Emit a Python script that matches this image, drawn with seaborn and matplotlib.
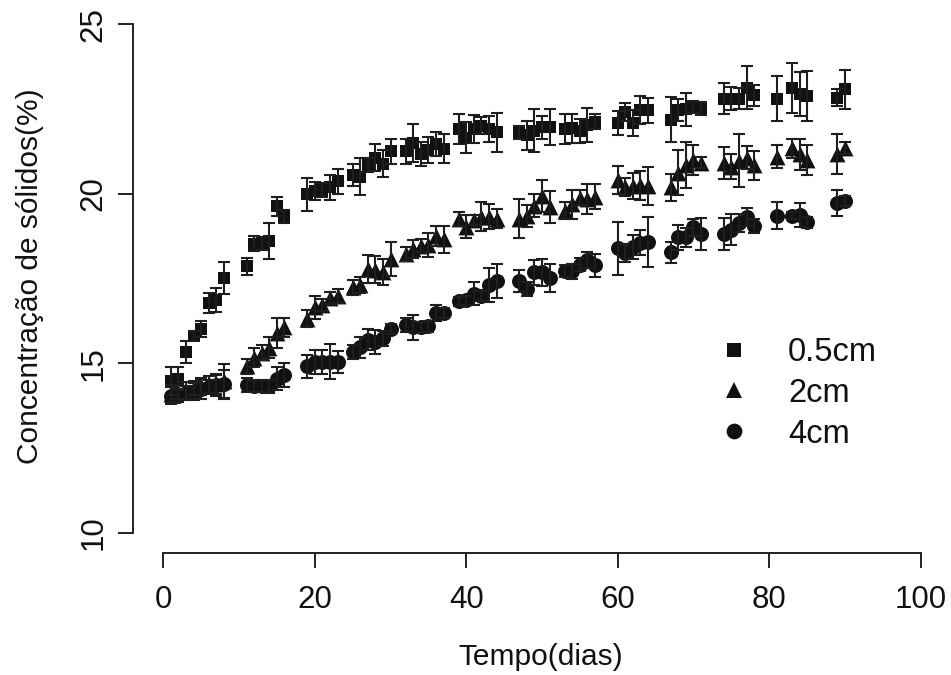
import matplotlib
matplotlib.use("Agg")
import matplotlib.pyplot as plt
from matplotlib.lines import Line2D
import seaborn as sns
import pandas as pd

# ---------------- data ----------------
days = [1, 2, 3, 4, 5, 6, 7, 8,
        11, 12, 13, 14, 15, 16,
        19, 20, 21, 22, 23,
        25, 26, 27, 28, 29, 30,
        32, 33, 34, 35, 36, 37,
        39, 40, 41, 42, 43, 44,
        47, 48, 49, 50, 51,
        53, 54, 55, 56, 57,
        60, 61, 62, 63, 64,
        67, 68, 69, 70, 71,
        74, 75, 76, 77, 78,
        81, 83, 84, 85,
        89, 90]

sq_mean = [14.48, 14.55, 15.33, 15.80, 16.02, 16.79, 16.86, 17.52,
           17.87, 18.53, 18.53, 18.62, 19.63, 19.33,
           19.99, 20.09, 20.12, 20.19, 20.37,
           20.55, 20.51, 20.85, 21.07, 20.89, 21.25,
           21.25, 21.51, 21.17, 21.29, 21.46, 21.33,
           21.91, 21.66, 21.91, 22.01, 21.91, 21.81,
           21.81, 21.73, 21.86, 21.96, 21.96,
           21.91, 21.93, 21.86, 22.03, 22.12,
           22.08, 22.41, 22.08, 22.47, 22.47,
           22.19, 22.47, 22.49, 22.56, 22.51,
           22.81, 22.81, 22.81, 23.13, 22.90,
           22.81, 23.13, 22.93, 22.88,
           22.83, 23.08]
sq_err = [0.40, 0.33, 0.33, 0.15, 0.23, 0.30, 0.35, 0.47,
          0.25, 0.22, 0.20, 0.53, 0.28, 0.20,
          0.49, 0.27, 0.20, 0.37, 0.37,
          0.33, 0.54, 0.22, 0.40, 0.40, 0.38,
          0.37, 0.56, 0.35, 0.38, 0.35, 0.42,
          0.45, 0.45, 0.42, 0.25, 0.37, 0.57,
          0.18, 0.43, 0.64, 0.33, 0.53,
          0.45, 0.42, 0.35, 0.50, 0.22,
          0.36, 0.27, 0.38, 0.40, 0.37,
          0.66, 0.33, 0.48, 0.17, 0.20,
          0.47, 0.35, 0.30, 0.64, 0.30,
          0.67, 0.74, 0.65, 0.73,
          0.25, 0.57]

tri_mean = [14.10, 14.15, 14.20, 14.28, 14.33, 14.38, 14.40, 14.48,
            14.92, 15.17, 15.32, 15.46, 15.89, 16.06,
            16.32, 16.65, 16.72, 16.92, 16.99,
            17.24, 17.31, 17.78, 17.76, 17.70, 18.09,
            18.22, 18.37, 18.47, 18.49, 18.76, 18.66,
            19.25, 19.03, 19.23, 19.33, 19.33, 19.27,
            19.27, 19.35, 19.65, 19.94, 19.60,
            19.50, 19.69, 19.89, 19.84, 19.92,
            20.40, 20.21, 20.23, 20.25, 20.23,
            20.19, 20.62, 20.84, 21.00, 20.92,
            20.90, 20.80, 20.97, 21.07, 20.84,
            21.10, 21.34, 21.17, 21.00,
            21.17, 21.36]
tri_err = [0.25, 0.20, 0.25, 0.20, 0.25, 0.25, 0.30, 0.50,
           0.22, 0.28, 0.22, 0.31, 0.45, 0.28,
           0.26, 0.35, 0.18, 0.18, 0.20,
           0.23, 0.24, 0.41, 0.40, 0.39, 0.50,
           0.20, 0.26, 0.20, 0.35, 0.29, 0.40,
           0.21, 0.34, 0.14, 0.44, 0.37, 0.28,
           0.58, 0.33, 0.34, 0.48, 0.47,
           0.25, 0.43, 0.23, 0.44, 0.37,
           0.41, 0.27, 0.38, 0.43, 0.56,
           0.40, 0.66, 0.68, 0.44, 0.16,
           0.47, 0.37, 0.78, 0.33, 0.43,
           0.35, 0.28, 0.46, 0.44,
           0.58, 0.18]

cir_mean = [14.05, 14.05, 14.12, 14.17, 14.25, 14.30, 14.35, 14.38,
            14.36, 14.34, 14.34, 14.32, 14.55, 14.65,
            14.91, 15.03, 15.03, 15.05, 15.05,
            15.34, 15.47, 15.70, 15.62, 15.74, 16.02,
            16.14, 16.07, 16.07, 16.10, 16.49, 16.49,
            16.83, 16.86, 17.05, 16.99, 17.32, 17.42,
            17.42, 17.20, 17.68, 17.68, 17.52,
            17.72, 17.72, 17.91, 18.04, 17.89,
            18.40, 18.26, 18.43, 18.56, 18.58,
            18.28, 18.72, 18.72, 19.01, 18.81,
            18.81, 18.94, 19.14, 19.31, 19.06,
            19.36, 19.36, 19.38, 19.16,
            19.72, 19.79]
cir_err = [0.25, 0.20, 0.20, 0.25, 0.30, 0.20, 0.30, 0.42,
           0.20, 0.18, 0.18, 0.20, 0.34, 0.36,
           0.34, 0.35, 0.35, 0.52, 0.32,
           0.20, 0.32, 0.31, 0.35, 0.22, 0.15,
           0.21, 0.37, 0.16, 0.16, 0.23, 0.15,
           0.13, 0.13, 0.34, 0.15, 0.50, 0.50,
           0.32, 0.21, 0.36, 0.41, 0.41,
           0.17, 0.22, 0.19, 0.23, 0.33,
           0.78, 0.26, 0.36, 0.36, 0.73,
           0.31, 0.37, 0.28, 0.25, 0.47,
           0.47, 0.46, 0.26, 0.26, 0.21,
           0.40, 0.10, 0.36, 0.16,
           0.38, 0.15]

series_labels = ["0.5cm", "2cm", "4cm"]
x_ticks = [0, 20, 40, 60, 80, 100]
y_ticks = [10, 15, 20, 25]
x_label = "Tempo(dias)"
y_label = "Concentração de sólidos(%)"

# ---------------- style ----------------
sns.set_theme(style="white")
plt.rcParams["font.family"] = ["Liberation Sans", "DejaVu Sans"]
FS_LAB = 21.5
FS_TICK = 22.5
FS_LEG = 23.5
INK = "#111111"

W, H = 951, 675
fig = plt.figure(figsize=(W / 100, H / 100), dpi=100)
ax = fig.add_axes([133 / W, 1 - 553.3 / H, (951 - 133) / W, (553.3 - 3.9) / H])
ax.set_xlim(-4, 104)
ax.set_ylim(9.4, 25.6)

frames = []
for lab, m, e in zip(series_labels, [sq_mean, tri_mean, cir_mean],
                     [sq_err, tri_err, cir_err]):
    frames.append(pd.DataFrame({"dia": days, "conc": m, "err": e, "grupo": lab}))
df = pd.concat(frames, ignore_index=True)

markers = {"0.5cm": "s", "2cm": "^", "4cm": "o"}
msize = {"0.5cm": 9.2, "2cm": 11.4, "4cm": 10.8}

for lab in series_labels:
    sub = df[df["grupo"] == lab]
    sns.scatterplot(data=sub, x="dia", y="conc", marker=markers[lab],
                    s=msize[lab] ** 2, color=INK, edgecolor=INK, linewidth=0,
                    ax=ax, legend=False, zorder=3)
    ax.errorbar(sub["dia"], sub["conc"], yerr=sub["err"], fmt="none",
                ecolor="#1e1e1e", elinewidth=1.5, capsize=4.6, capthick=1.5,
                zorder=4)

# axes like base R
sns.despine(ax=ax, top=True, right=True)
for side in ("left", "bottom"):
    ax.spines[side].set_color(INK)
    ax.spines[side].set_linewidth(1.3)
ax.spines["left"].set_bounds(10, 25)
ax.spines["bottom"].set_bounds(0, 100)
ax.set_xticks(x_ticks)
ax.set_yticks(y_ticks)
ax.set_xticklabels([str(t) for t in x_ticks])
ax.set_yticklabels([str(t) for t in y_ticks], rotation=90, va="center")
ax.tick_params(axis="both", which="major", bottom=True, left=True,
               direction="out", length=10.8, width=1.3,
               color=INK, labelcolor=INK, labelsize=FS_TICK)
ax.tick_params(axis="x", pad=12)
ax.tick_params(axis="y", pad=7)
ax.grid(False)
ax.set_xlabel("")
ax.set_ylabel("")

fig.text(541 / W, 1 - 657 / H, x_label, ha="center", va="center",
         fontsize=FS_LAB, color=INK)
fig.text(30 / W, 1 - 276 / H, y_label, ha="center", va="center",
         rotation=90, fontsize=FS_LAB, color=INK)

handles = [Line2D([], [], linestyle="none", marker=markers[l], color=INK,
                  markersize=msize[l] * 1.05, markeredgewidth=0) for l in series_labels]
leg = ax.legend(handles, series_labels, loc="upper left",
                bbox_to_anchor=(718 / W, 1 - 337 / H), bbox_transform=fig.transFigure,
                frameon=False, fontsize=FS_LEG, handlelength=1.0, handletextpad=1.15,
                labelspacing=0.30, borderpad=0, borderaxespad=0)
for t in leg.get_texts():
    t.set_color(INK)

fig.savefig("out.png", dpi=100)
